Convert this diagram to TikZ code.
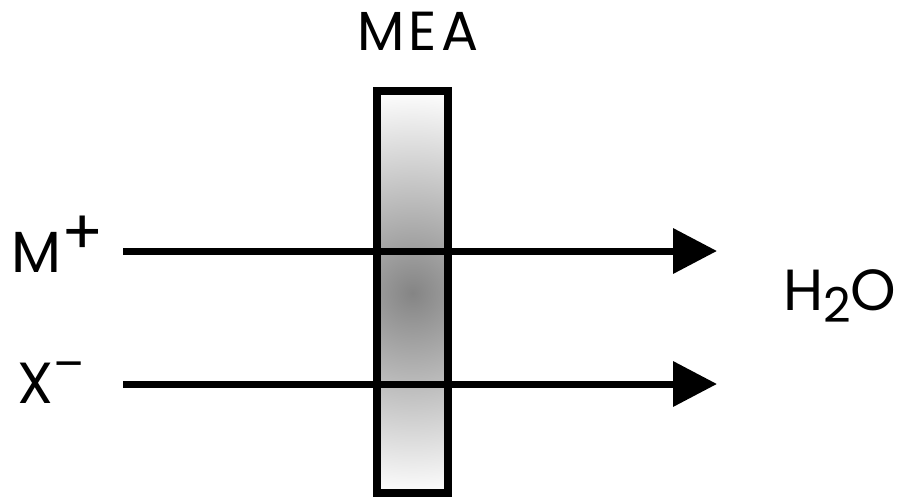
\documentclass[tikz,border=0pt]{standalone}
\usepackage{fontspec}
\setmainfont{Poppins}
\usetikzlibrary{arrows.meta}
\newcommand{\ionplus}{\raisebox{18pt}{\fontsize{62}{62}\selectfont +}}
\newcommand{\ionminus}{\raisebox{23pt}{\fontsize{46}{46}\selectfont –}}
\newcommand{\ionsub}[1]{\raisebox{-12pt}{\fontsize{48}{48}\selectfont #1}}
\tikzset{
    ionlabel/.style={font=\fontsize{58}{66}\selectfont, inner sep=0pt},
    membrane/.style={draw, line width=7.5pt, minimum width=71pt, minimum height=402pt, inner sep=0pt,
        path picture={
            \shade[inner color=black!48, outer color=white]
                ([yshift=-1pt]path picture bounding box.center) circle (205pt);
        }
    },
    flow/.style={line width=7pt, -{Triangle[length=44pt, width=44pt]}}
}
\begin{document}
\begin{tikzpicture}[x=1pt, y=-1pt]
    \useasboundingbox (0,0) rectangle (898,496);

    \node[membrane] (mea) at (412.5,292) {};
    \node[ionlabel, anchor=base, font=\fontsize{55}{62}\selectfont\addfontfeature{LetterSpace=8}] (mea-label) at (418,50) {MEA};

    \node[ionlabel, anchor=base west] (cation) at (11,272) {M\ionplus};
    \node[ionlabel, anchor=base west] (anion) at (17,403) {X\ionminus};
    \node[ionlabel, anchor=base west] (water) at (783,310) {H\ionsub{2}O};

    \coordinate (cation-start) at (123,251);
    \coordinate (cation-end) at (717,251);
    \coordinate (anion-start) at (123,384);
    \coordinate (anion-end) at (717,384);

    \draw[flow] (cation-start) -- (cation-end);
    \draw[flow] (anion-start) -- (anion-end);
\end{tikzpicture}
\end{document}
